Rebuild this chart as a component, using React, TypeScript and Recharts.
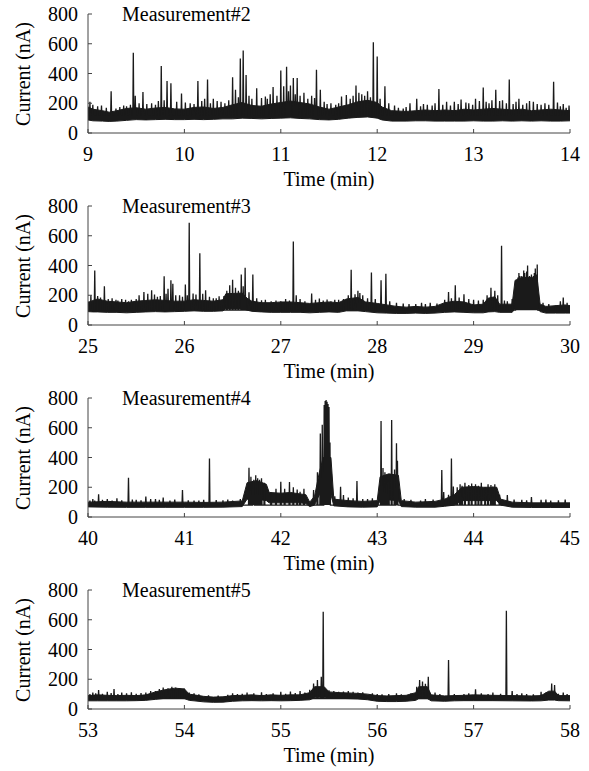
import React from 'react';
import { ComposedChart, Area, Line, XAxis, YAxis } from 'recharts';

const FONT = "'Liberation Serif', 'Times New Roman', serif";
const INK = '#1a1a1a';
const AXIS = '#444';

const yTicks = [0, 200, 400, 600, 800];

// band envelope: [time (min), low (nA), high (nA)]
const m2Ticks = [9, 10, 11, 12, 13, 14];
const m2Band = [
  [9.0, 88, 175], [9.05, 82, 160], [9.15, 80, 150], [9.22, 78, 140], [9.3, 80, 150], [9.4, 85, 165],
  [9.5, 90, 170], [9.6, 88, 160], [9.7, 90, 168], [9.8, 92, 172], [9.9, 90, 162], [10.0, 90, 160],
  [10.1, 92, 172], [10.2, 90, 175], [10.3, 92, 165], [10.4, 95, 172], [10.5, 95, 190], [10.6, 100, 205],
  [10.7, 98, 185], [10.8, 95, 180], [10.9, 98, 195], [11.0, 100, 205], [11.1, 102, 215], [11.2, 98, 205],
  [11.3, 95, 195], [11.4, 90, 175], [11.5, 88, 160], [11.6, 92, 175], [11.7, 100, 190], [11.8, 105, 210],
  [11.9, 108, 220], [12.0, 100, 205], [12.05, 88, 175], [12.15, 80, 150], [12.3, 80, 145], [12.4, 82, 150],
  [12.5, 82, 155], [12.6, 80, 150], [12.7, 80, 155], [12.8, 80, 150], [12.9, 80, 160], [13.0, 82, 155],
  [13.1, 80, 160], [13.2, 80, 165], [13.3, 82, 160], [13.4, 80, 155], [13.5, 82, 160], [13.6, 80, 150],
  [13.7, 82, 155], [13.8, 80, 160], [13.9, 80, 155], [14.0, 82, 150],
];
// spikes: [time (min), peak (nA)]
const m2Spikes = [
  [9.02, 210], [9.05, 190], [9.1, 180], [9.14, 185], [9.19, 170], [9.24, 280], [9.29, 165], [9.33, 175],
  [9.37, 185], [9.4, 180], [9.44, 190], [9.47, 540], [9.49, 250], [9.53, 200], [9.57, 275], [9.61, 195],
  [9.66, 200], [9.7, 190], [9.73, 215], [9.76, 450], [9.79, 220], [9.82, 350], [9.86, 335], [9.92, 210],
  [9.97, 265], [10.01, 205], [10.06, 200], [10.1, 195], [10.14, 350], [10.18, 215], [10.21, 230],
  [10.24, 360], [10.27, 200], [10.3, 230], [10.34, 215], [10.38, 210], [10.42, 200], [10.46, 220],
  [10.5, 375], [10.53, 290], [10.56, 240], [10.58, 500], [10.61, 555], [10.64, 390], [10.67, 250],
  [10.7, 230], [10.75, 300], [10.8, 235], [10.84, 245], [10.86, 230], [10.89, 260], [10.92, 310],
  [10.96, 250], [11.0, 420], [11.03, 315], [11.06, 445], [11.08, 280], [11.1, 320], [11.13, 370],
  [11.15, 260], [11.17, 370], [11.2, 250], [11.24, 270], [11.28, 230], [11.32, 250], [11.35, 235],
  [11.37, 425], [11.41, 290], [11.45, 210], [11.48, 195], [11.52, 200], [11.57, 190], [11.6, 200],
  [11.63, 245], [11.68, 255], [11.72, 230], [11.75, 250], [11.78, 320], [11.81, 270], [11.84, 260],
  [11.87, 250], [11.9, 280], [11.93, 240], [11.96, 610], [12.0, 515], [12.03, 230], [12.08, 315],
  [12.12, 200], [12.18, 185], [12.22, 170], [12.27, 165], [12.3, 175], [12.34, 200], [12.41, 230],
  [12.45, 180], [12.48, 195], [12.52, 190], [12.57, 185], [12.6, 200], [12.64, 295], [12.68, 190],
  [12.72, 210], [12.76, 185], [12.8, 210], [12.84, 195], [12.87, 225], [12.92, 205], [12.95, 200],
  [12.99, 190], [13.02, 230], [13.06, 215], [13.1, 305], [13.13, 210], [13.16, 200], [13.19, 220],
  [13.23, 290], [13.27, 215], [13.3, 220], [13.34, 200], [13.37, 360], [13.41, 195], [13.44, 210],
  [13.47, 230], [13.51, 190], [13.55, 200], [13.58, 215], [13.62, 210], [13.66, 195], [13.7, 190],
  [13.74, 200], [13.78, 190], [13.83, 345], [13.87, 205], [13.9, 180], [13.93, 195], [13.96, 170],
  [13.99, 185],
];
const m2Base = 115;

const m3Ticks = [25, 26, 27, 28, 29, 30];
const m3Band = [
  [25.0, 90, 150], [25.05, 88, 165], [25.1, 88, 175], [25.2, 85, 160], [25.3, 85, 155], [25.4, 82, 150],
  [25.5, 85, 160], [25.6, 88, 165], [25.7, 90, 170], [25.8, 88, 165], [25.9, 90, 160], [26.0, 92, 160],
  [26.1, 95, 170], [26.2, 92, 165], [26.3, 92, 160], [26.4, 95, 170], [26.43, 110, 210], [26.6, 110, 215],
  [26.65, 100, 180], [26.7, 92, 160], [26.8, 88, 150], [26.9, 85, 150], [27.0, 85, 155], [27.1, 85, 155],
  [27.2, 85, 150], [27.3, 82, 145], [27.4, 85, 150], [27.5, 88, 155], [27.6, 85, 150], [27.68, 95, 175],
  [27.8, 95, 185], [27.88, 90, 155], [28.0, 82, 145], [28.1, 80, 135], [28.2, 78, 125], [28.3, 78, 120],
  [28.4, 80, 125], [28.5, 78, 120], [28.6, 80, 125], [28.7, 85, 150], [28.8, 88, 160], [28.9, 85, 155],
  [29.0, 82, 135], [29.1, 82, 140], [29.15, 88, 180], [29.22, 90, 190], [29.27, 85, 140], [29.4, 85, 140],
  [29.43, 110, 300], [29.5, 110, 320], [29.6, 112, 320], [29.66, 110, 310], [29.69, 90, 140],
  [29.75, 80, 125], [29.85, 80, 130], [29.95, 80, 135], [30.0, 80, 130],
];
const m3Spikes = [
  [25.01, 160], [25.03, 200], [25.07, 367], [25.1, 195], [25.13, 185], [25.17, 260], [25.21, 175],
  [25.25, 180], [25.29, 170], [25.31, 165], [25.35, 175], [25.39, 170], [25.42, 160], [25.45, 170],
  [25.5, 175], [25.53, 200], [25.58, 222], [25.62, 210], [25.66, 233], [25.69, 205], [25.72, 190],
  [25.75, 195], [25.79, 327], [25.81, 210], [25.83, 244], [25.86, 300], [25.88, 278], [25.91, 200],
  [25.95, 200], [25.98, 190], [26.01, 273], [26.03, 200], [26.05, 687], [26.09, 211], [26.12, 205],
  [26.16, 482], [26.19, 210], [26.22, 233], [26.26, 190], [26.3, 180], [26.33, 180], [26.36, 193],
  [26.41, 195], [26.44, 230], [26.47, 267], [26.5, 304], [26.53, 250], [26.56, 230], [26.59, 340],
  [26.61, 260], [26.63, 384], [26.67, 220], [26.71, 340], [26.75, 180], [26.8, 167], [26.84, 170],
  [26.9, 160], [26.95, 165], [27.0, 160], [27.05, 175], [27.09, 165], [27.13, 562], [27.16, 200],
  [27.2, 175], [27.25, 160], [27.32, 211], [27.36, 170], [27.4, 178], [27.44, 165], [27.48, 171],
  [27.52, 160], [27.56, 170], [27.6, 170], [27.65, 175], [27.7, 200], [27.73, 371], [27.77, 207],
  [27.8, 230], [27.82, 215], [27.85, 200], [27.9, 180], [27.94, 353], [27.98, 175], [28.04, 300],
  [28.09, 344], [28.13, 160], [28.2, 150], [28.27, 145], [28.33, 140], [28.4, 140], [28.46, 150],
  [28.5, 140], [28.55, 150], [28.62, 145], [28.7, 170], [28.74, 222], [28.77, 180], [28.81, 267],
  [28.85, 185], [28.9, 207], [28.95, 175], [29.0, 170], [29.05, 165], [29.1, 170], [29.14, 200],
  [29.18, 251], [29.22, 230], [29.25, 200], [29.29, 533], [29.32, 165], [29.35, 160], [29.4, 175],
  [29.44, 290], [29.45, 300], [29.46, 320], [29.47, 350], [29.48, 330], [29.49, 310], [29.5, 330],
  [29.51, 300], [29.52, 367], [29.53, 350], [29.54, 320], [29.55, 360], [29.56, 400], [29.57, 300],
  [29.58, 330], [29.59, 310], [29.6, 340], [29.61, 300], [29.62, 330], [29.63, 350], [29.64, 380],
  [29.65, 340], [29.66, 407], [29.72, 150], [29.78, 140], [29.85, 133], [29.9, 160], [29.93, 184],
  [29.97, 150],
];
const m3Base = 100;

const m4Ticks = [40, 41, 42, 43, 44, 45];
const m4Band = [
  [40.0, 68, 100], [40.2, 66, 105], [40.4, 65, 100], [40.6, 65, 100], [40.8, 65, 100], [41.0, 65, 100],
  [41.2, 65, 98], [41.4, 66, 100], [41.6, 70, 108], [41.65, 120, 230], [41.75, 120, 245],
  [41.85, 110, 220], [41.88, 95, 165], [42.0, 95, 160], [42.1, 95, 165], [42.2, 95, 155], [42.26, 90, 150],
  [42.3, 70, 100], [42.35, 80, 140], [42.4, 150, 300], [42.44, 150, 400], [42.52, 150, 400],
  [42.55, 75, 120], [42.7, 68, 110], [42.85, 66, 105], [43.0, 68, 110], [43.03, 110, 270],
  [43.12, 115, 290], [43.22, 110, 280], [43.25, 70, 110], [43.4, 66, 100], [43.6, 66, 105],
  [43.7, 72, 120], [43.8, 80, 150], [43.88, 110, 200], [44.0, 110, 205], [44.1, 110, 200],
  [44.24, 110, 200], [44.28, 80, 120], [44.4, 66, 100], [44.6, 64, 95], [44.8, 64, 95], [45.0, 64, 95],
];
const m4Spikes = [
  [40.02, 110], [40.05, 120], [40.07, 110], [40.11, 152], [40.15, 115], [40.2, 120], [40.25, 110],
  [40.3, 125], [40.35, 112], [40.42, 264], [40.46, 118], [40.5, 115], [40.55, 112], [40.6, 138],
  [40.65, 120], [40.7, 120], [40.74, 115], [40.78, 130], [40.85, 110], [40.9, 118], [40.98, 181],
  [41.04, 112], [41.1, 110], [41.15, 110], [41.2, 115], [41.26, 394], [41.33, 114], [41.4, 112],
  [41.45, 118], [41.5, 110], [41.58, 120], [41.67, 331], [41.69, 270], [41.71, 240], [41.72, 250],
  [41.74, 280], [41.76, 260], [41.78, 250], [41.8, 260], [41.83, 230], [41.9, 165], [41.95, 190],
  [42.0, 237], [42.04, 190], [42.09, 235], [42.13, 200], [42.17, 185], [42.2, 170], [42.24, 190],
  [42.34, 182], [42.38, 300], [42.41, 562], [42.43, 620], [42.45, 753], [42.46, 780], [42.47, 786],
  [42.48, 775], [42.49, 760], [42.5, 740], [42.51, 500], [42.56, 140], [42.62, 204], [42.65, 148],
  [42.7, 130], [42.75, 125], [42.79, 242], [42.85, 120], [42.9, 120], [42.95, 125], [43.04, 645],
  [43.06, 330], [43.08, 300], [43.1, 280], [43.12, 262], [43.15, 652], [43.18, 320], [43.2, 495],
  [43.21, 378], [43.28, 120], [43.35, 115], [43.45, 110], [43.5, 120], [43.58, 118], [43.67, 316],
  [43.69, 168], [43.74, 150], [43.77, 394], [43.79, 205], [43.83, 200], [43.86, 220], [43.88, 210],
  [43.91, 230], [43.95, 215], [43.98, 225], [44.02, 220], [44.05, 210], [44.08, 230], [44.12, 200],
  [44.15, 220], [44.18, 215], [44.2, 205], [44.22, 220], [44.27, 150], [44.35, 148], [44.42, 118],
  [44.5, 115], [44.55, 112], [44.6, 134], [44.7, 115], [44.75, 118], [44.8, 110], [44.88, 112],
  [44.95, 118],
];
const m4Base = 80;

const m5Ticks = [53, 54, 55, 56, 57, 58];
const m5Band = [
  [53.0, 55, 90], [53.1, 55, 95], [53.2, 55, 92], [53.3, 55, 90], [53.4, 55, 92], [53.5, 56, 90],
  [53.6, 58, 95], [53.7, 65, 115], [53.8, 72, 130], [53.9, 72, 140], [54.0, 70, 135], [54.05, 58, 100],
  [54.1, 55, 95], [54.2, 48, 85], [54.3, 45, 80], [54.4, 46, 82], [54.5, 52, 90], [54.6, 55, 92],
  [54.7, 56, 95], [54.8, 55, 90], [54.9, 56, 95], [55.0, 55, 92], [55.1, 56, 95], [55.2, 58, 95],
  [55.3, 62, 110], [55.35, 75, 150], [55.45, 75, 150], [55.5, 72, 115], [55.6, 72, 110], [55.7, 70, 108],
  [55.8, 68, 105], [55.9, 62, 100], [56.0, 52, 90], [56.1, 50, 88], [56.2, 50, 90], [56.3, 52, 92],
  [56.4, 58, 110], [56.43, 70, 150], [56.52, 70, 150], [56.56, 55, 95], [56.7, 52, 88], [56.8, 55, 90],
  [56.9, 56, 92], [57.0, 56, 95], [57.2, 56, 92], [57.4, 55, 90], [57.6, 54, 88], [57.7, 55, 90],
  [57.78, 60, 120], [57.84, 60, 120], [57.88, 56, 90], [58.0, 55, 90],
];
const m5Spikes = [
  [53.02, 100], [53.05, 110], [53.08, 105], [53.11, 128], [53.15, 102], [53.2, 115], [53.24, 108],
  [53.27, 134], [53.31, 100], [53.35, 110], [53.4, 105], [53.45, 112], [53.5, 102], [53.55, 108],
  [53.6, 110], [53.65, 120], [53.7, 120], [53.74, 135], [53.78, 145], [53.83, 140], [53.87, 150],
  [53.91, 145], [53.95, 141], [54.0, 138], [54.05, 110], [54.1, 105], [54.15, 98], [54.25, 92],
  [54.35, 90], [54.45, 95], [54.5, 105], [54.55, 100], [54.6, 102], [54.65, 110], [54.72, 105],
  [54.8, 112], [54.85, 100], [54.92, 105], [55.0, 115], [55.05, 102], [55.1, 118], [55.15, 108],
  [55.2, 120], [55.25, 110], [55.3, 130], [55.34, 172], [55.38, 195], [55.42, 217], [55.44, 654],
  [55.5, 125], [55.55, 120], [55.6, 115], [55.65, 118], [55.7, 120], [55.75, 115], [55.8, 110],
  [55.85, 112], [55.95, 105], [56.0, 100], [56.05, 98], [56.12, 100], [56.2, 105], [56.25, 98],
  [56.35, 105], [56.41, 150], [56.44, 195], [56.47, 184], [56.5, 170], [56.53, 217], [56.6, 110],
  [56.65, 100], [56.74, 329], [56.8, 100], [56.9, 100], [56.95, 105], [57.02, 132], [57.08, 105],
  [57.15, 100], [57.2, 110], [57.28, 102], [57.34, 661], [57.4, 121], [57.45, 100], [57.5, 105],
  [57.55, 100], [57.62, 98], [57.7, 116], [57.75, 110], [57.81, 172], [57.84, 161], [57.88, 102],
  [57.93, 110], [57.97, 100],
];
const m5Base = 70;

const bandRows = (band: number[][]) => band.map(([t, lo, hi]) => ({ t, band: [lo, hi] }));

const spikeRows = (spikes: number[][], base: number) =>
  [...spikes]
    .sort((a, b) => a[0] - b[0])
    .flatMap(([t, v]) => [
      { t: t - 0.005, v: base },
      { t, v },
      { t: t + 0.005, v: base },
    ]);

const PANEL_H = 192;
const FONT_SIZE = 20;

const XTick = (props: any) => (
  <text
    x={props.x}
    y={props.y}
    dy="0.71em"
    textAnchor="middle"
    fill="#000"
    style={{ fontFamily: FONT, fontSize: FONT_SIZE }}
  >
    {props.payload.value}
  </text>
);

const YTick = (props: any) => (
  <text
    x={props.x}
    y={props.y}
    dy="0.35em"
    textAnchor="end"
    fill="#000"
    style={{ fontFamily: FONT, fontSize: FONT_SIZE }}
  >
    {props.payload.value}
  </text>
);

const textStyle: React.CSSProperties = {
  position: 'absolute',
  fontFamily: FONT,
  fontSize: FONT_SIZE,
  lineHeight: `${FONT_SIZE}px`,
  color: '#000',
  whiteSpace: 'nowrap',
};

interface PanelProps {
  title: string;
  index: number;
  ticks: number[];
  band: { t: number; band: number[] }[];
  spikes: { t: number; v: number }[];
}

const Panel: React.FC<PanelProps> = ({ title, index, ticks, band, spikes }) => (
  <div style={{ position: 'absolute', left: 0, top: index * PANEL_H, width: 589, height: PANEL_H }}>
    <ComposedChart width={589} height={PANEL_H} margin={{ top: 14, right: 19, bottom: 0, left: 0 }}>
      <XAxis
        type="number"
        dataKey="t"
        domain={[ticks[0], ticks[ticks.length - 1]]}
        ticks={ticks}
        interval={0}
        allowDataOverflow
        height={59}
        stroke={AXIS}
        tickSize={-4}
        tickMargin={18}
        tick={XTick}
      />
      <YAxis
        type="number"
        domain={[0, 800]}
        ticks={yTicks}
        interval={0}
        width={88}
        stroke={AXIS}
        tickSize={-4}
        tickMargin={14}
        tick={YTick}
      />
      <Area
        data={band}
        dataKey="band"
        type="linear"
        stroke={INK}
        strokeWidth={1}
        fill={INK}
        fillOpacity={1}
        isAnimationActive={false}
      />
      <Line
        data={spikes}
        dataKey="v"
        type="linear"
        stroke={INK}
        strokeWidth={1.3}
        dot={false}
        isAnimationActive={false}
      />
    </ComposedChart>
    <div style={{ ...textStyle, left: 122, top: 4 }}>{title}</div>
    <div style={{ ...textStyle, left: 23, top: 73.5, transform: 'translate(-50%, -50%) rotate(-90deg)' }}>
      Current (nA)
    </div>
    <div style={{ ...textStyle, left: 329, top: 169, transform: 'translateX(-50%)' }}>Time (min)</div>
  </div>
);

export default function App() {
  return (
    <div style={{ position: 'absolute', left: 0, top: 0, width: 589, height: 771, background: '#fff' }}>
      <Panel title="Measurement#2" index={0} ticks={m2Ticks} band={bandRows(m2Band)} spikes={spikeRows(m2Spikes, m2Base)} />
      <Panel title="Measurement#3" index={1} ticks={m3Ticks} band={bandRows(m3Band)} spikes={spikeRows(m3Spikes, m3Base)} />
      <Panel title="Measurement#4" index={2} ticks={m4Ticks} band={bandRows(m4Band)} spikes={spikeRows(m4Spikes, m4Base)} />
      <Panel title="Measurement#5" index={3} ticks={m5Ticks} band={bandRows(m5Band)} spikes={spikeRows(m5Spikes, m5Base)} />
    </div>
  );
}
